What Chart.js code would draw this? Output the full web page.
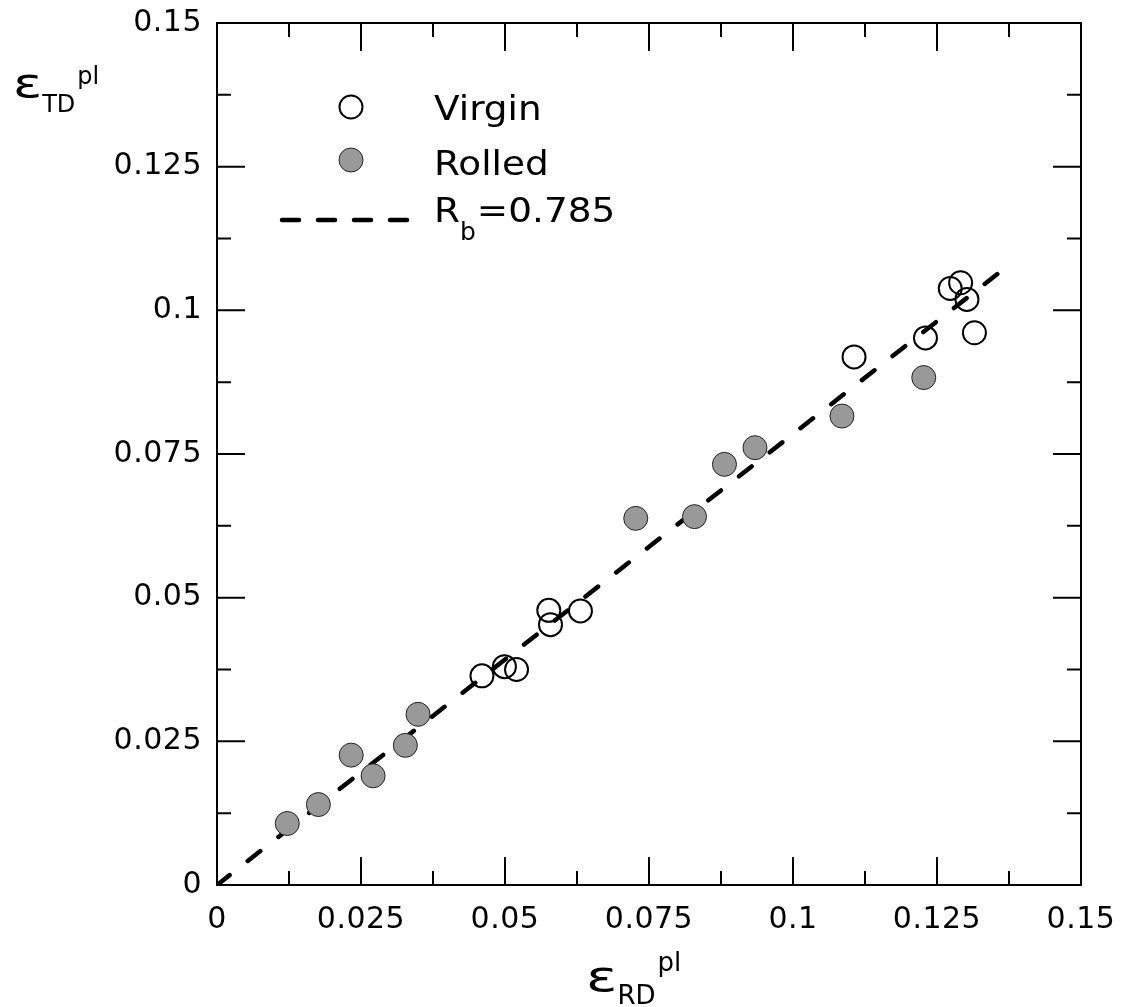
<!DOCTYPE html>
<html>
<head>
<meta charset="utf-8">
<script src="https://cdn.jsdelivr.net/npm/chart.js@4.4.1/dist/chart.umd.min.js"></script>
<style>
  html, body { margin: 0; padding: 0; background: #fff; }
  #wrap { width: 1126px; height: 1007px; position: relative; }
</style>
</head>
<body>
<div id="wrap"><canvas id="graficoDeformacion"></canvas></div>
<script>
// plastic strain, rolling direction (x) vs transverse direction (y)
const virginRD = [0.1273, 0.1291, 0.1302, 0.1315, 0.1230, 0.1106, 0.0576, 0.0579, 0.0631, 0.0460, 0.0499, 0.0520];
const virginTD = [0.1038, 0.1048, 0.1019, 0.0961, 0.0952, 0.0919, 0.0478, 0.0453, 0.0477, 0.0364, 0.0380, 0.0375];

const rolledRD = [0.0122, 0.0176, 0.0233, 0.0271, 0.0327, 0.0349, 0.0727, 0.0829, 0.0881, 0.0934, 0.1085, 0.1227];
const rolledTD = [0.0107, 0.0140, 0.0226, 0.0190, 0.0243, 0.0297, 0.0638, 0.0641, 0.0732, 0.0761, 0.0816, 0.0883];

// straight line for R_b = 0.785
const fitRD = [0, 0.1375];
const fitTD = [0, 0.1079];

const tickValues = [0, 0.025, 0.05, 0.075, 0.1, 0.125, 0.15];
const tickLabels = ['0', '0.025', '0.05', '0.075', '0.1', '0.125', '0.15'];
const minorValues = [0.0125, 0.0375, 0.0625, 0.0875, 0.1125, 0.1375];

const FONT = "'DejaVu Sans', Verdana, sans-serif";

function toPoints(xs, ys) {
    return xs.map(function (x, i) { return { x: x, y: ys[i] }; });
}

// text with optional horizontal stretch, returns advance
function stretchText(ctx, text, x, y, size, sx) {
    ctx.save();
    ctx.font = size + 'px ' + FONT;
    ctx.translate(x, y);
    ctx.scale(sx, 1);
    ctx.fillText(text, 0, 0);
    const w = ctx.measureText(text).width * sx;
    ctx.restore();
    return w;
}

// frame, inward ticks on all four sides, legend and axis titles
const decoraciones = {
    id: 'decoraciones',
    beforeDraw: function (chart) {
        chart.ctx.letterSpacing = '0.5px';
    },
    afterDraw: function (chart) {
        const ctx = chart.ctx;
        const a = chart.chartArea;
        const sx = chart.scales.x;
        const sy = chart.scales.y;
        ctx.save();
        ctx.letterSpacing = '0px';
        ctx.strokeStyle = '#000';
        ctx.lineWidth = 2;
        ctx.strokeRect(a.left, a.top, a.right - a.left, a.bottom - a.top);

        ctx.beginPath();
        tickValues.forEach(function (v) {
            const px = sx.getPixelForValue(v);
            const py = sy.getPixelForValue(v);
            ctx.moveTo(px, a.bottom); ctx.lineTo(px, a.bottom - 28);
            ctx.moveTo(px, a.top); ctx.lineTo(px, a.top + 28);
            ctx.moveTo(a.left, py); ctx.lineTo(a.left + 28, py);
            ctx.moveTo(a.right, py); ctx.lineTo(a.right - 28, py);
        });
        minorValues.forEach(function (v) {
            const px = sx.getPixelForValue(v);
            const py = sy.getPixelForValue(v);
            ctx.moveTo(px, a.bottom); ctx.lineTo(px, a.bottom - 14);
            ctx.moveTo(px, a.top); ctx.lineTo(px, a.top + 14);
            ctx.moveTo(a.left, py); ctx.lineTo(a.left + 14, py);
            ctx.moveTo(a.right, py); ctx.lineTo(a.right - 14, py);
        });
        ctx.stroke();

        // legend
        ctx.fillStyle = '#000';
        ctx.textBaseline = 'alphabetic';
        ctx.lineWidth = 2;
        ctx.beginPath();
        ctx.arc(351, 107, 11.5, 0, Math.PI * 2);
        ctx.stroke();
        ctx.beginPath();
        ctx.arc(351, 160, 12, 0, Math.PI * 2);
        ctx.fillStyle = '#999999';
        ctx.fill();
        ctx.lineWidth = 1;
        ctx.strokeStyle = '#222';
        ctx.stroke();

        ctx.strokeStyle = '#000';
        ctx.lineWidth = 4.5;
        ctx.lineCap = 'round';
        ctx.setLineDash([17, 19]);
        ctx.beginPath();
        ctx.moveTo(282, 220);
        ctx.lineTo(408, 220);
        ctx.stroke();
        ctx.setLineDash([]);

        ctx.fillStyle = '#000';
        stretchText(ctx, 'Virgin', 434, 120, 34, 1.1);
        stretchText(ctx, 'Rolled', 434, 175, 34, 1.1);
        let x = 434;
        x += stretchText(ctx, 'R', x, 222, 34, 1.1);
        x += stretchText(ctx, 'b', x, 240, 25, 1.0);
        stretchText(ctx, '=0.785', x + 1, 222, 34, 1.1);

        // y axis title
        x = 13;
        x += stretchText(ctx, '\u03b5', x, 97, 40, 1.35);
        x += stretchText(ctx, 'TD', x, 112, 24, 1.0);
        stretchText(ctx, 'pl', x + 2, 84, 24, 1.0);

        // x axis title
        x = 586;
        x += stretchText(ctx, '\u03b5', x, 991, 43, 1.35);
        x += stretchText(ctx, 'RD', x, 1004, 26, 1.0);
        stretchText(ctx, 'pl', x + 2, 971, 26, 1.0);

        ctx.restore();
    }
};

new Chart(document.getElementById('graficoDeformacion'), {
    type: 'scatter',
    data: {
        datasets: [
            {
                label: 'Virgin',
                data: toPoints(virginRD, virginTD),
                pointRadius: 11.5,
                pointBorderWidth: 2,
                pointBorderColor: '#000',
                pointBackgroundColor: 'rgba(0,0,0,0)'
            },
            {
                label: 'Rolled',
                data: toPoints(rolledRD, rolledTD),
                pointRadius: 12,
                pointBorderWidth: 1,
                pointBorderColor: '#222',
                pointBackgroundColor: '#999999'
            },
            {
                label: 'R_b=0.785',
                data: toPoints(fitRD, fitTD),
                showLine: true,
                pointRadius: 0,
                borderColor: '#000',
                borderWidth: 4.5,
                borderDash: [16, 23],
                borderCapStyle: 'round'
            }
        ]
    },
    options: {
        responsive: true,
        maintainAspectRatio: false,
        animation: false,
        events: [],
        layout: { padding: { top: 23, right: 45, left: 0, bottom: 0 } },
        plugins: {
            legend: { display: false },
            tooltip: { enabled: false }
        },
        scales: {
            x: {
                type: 'linear',
                min: 0,
                max: 0.15,
                grid: { display: false, drawTicks: false },
                border: { display: false },
                afterBuildTicks: function (scale) {
                    scale.ticks = tickValues.map(function (v) { return { value: v }; });
                },
                afterFit: function (scale) {
                    scale.height = 122;
                    scale.paddingLeft = 0;
                    scale.paddingRight = 0;
                },
                ticks: {
                    padding: 17,
                    color: '#000',
                    font: { family: FONT, size: 30 },
                    maxRotation: 0,
                    callback: function (value, index) { return tickLabels[index]; }
                }
            },
            y: {
                type: 'linear',
                min: 0,
                max: 0.15,
                grid: { display: false, drawTicks: false },
                border: { display: false },
                afterBuildTicks: function (scale) {
                    scale.ticks = tickValues.map(function (v) { return { value: v }; });
                },
                afterFit: function (scale) {
                    scale.width = 217;
                    scale.paddingTop = 0;
                    scale.paddingBottom = 0;
                },
                ticks: {
                    padding: 15,
                    color: '#000',
                    font: { family: FONT, size: 30 },
                    callback: function (value, index) { return tickLabels[index]; }
                }
            }
        }
    },
    plugins: [decoraciones]
});
</script>
</body>
</html>
